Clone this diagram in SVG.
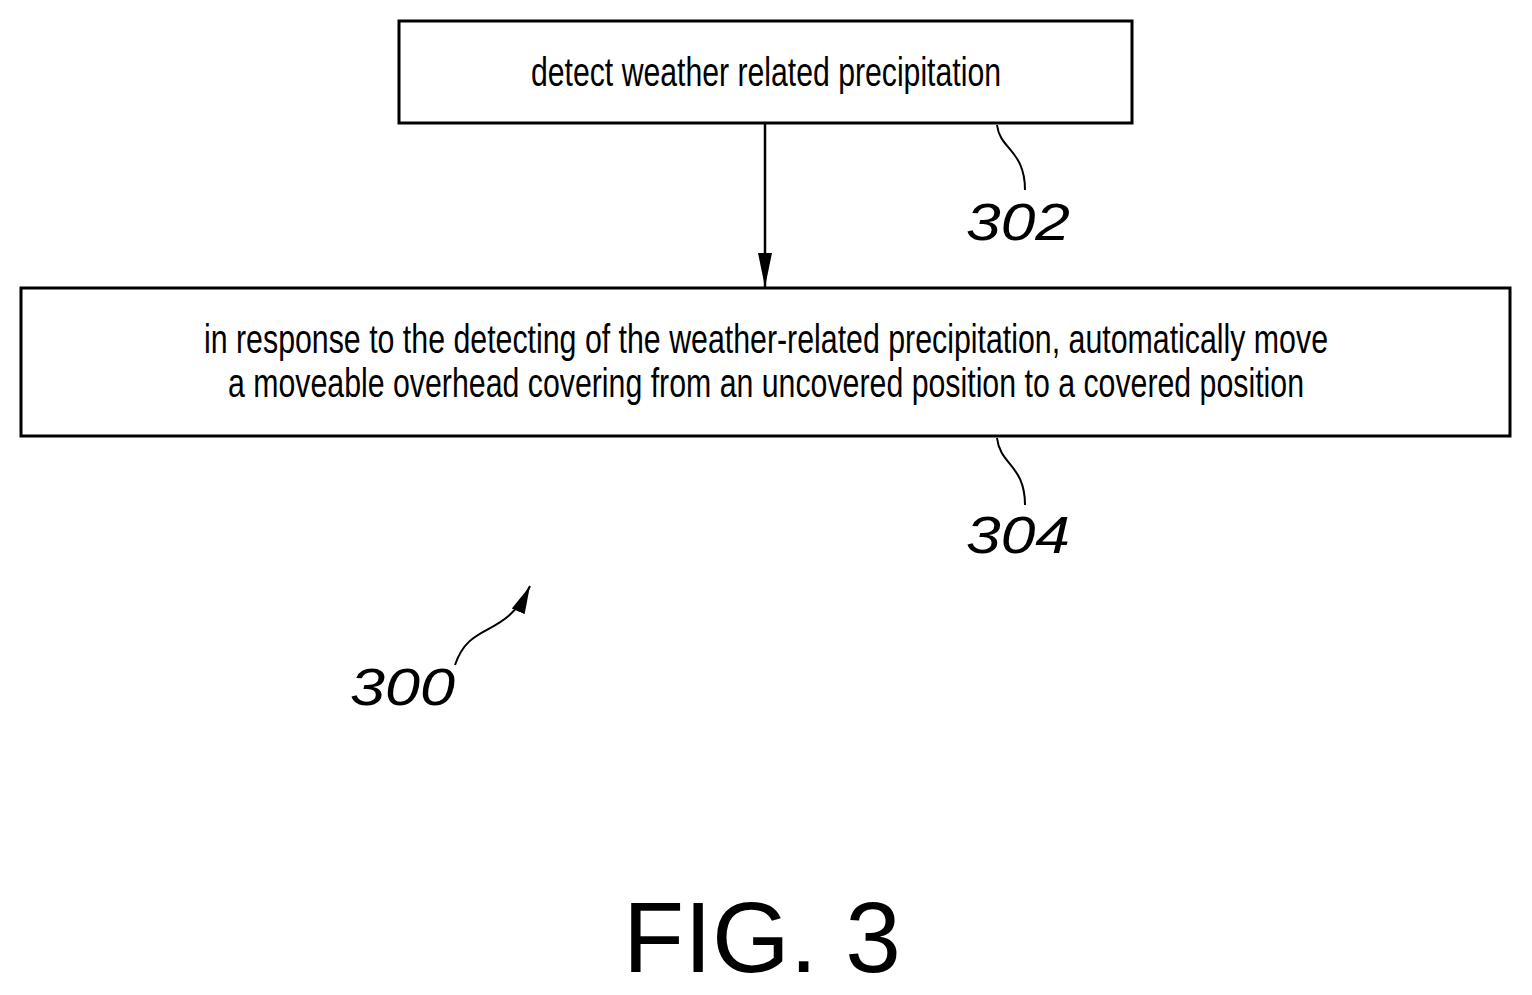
<svg xmlns="http://www.w3.org/2000/svg" width="1532" height="995" viewBox="0 0 1532 995">
<defs><marker id="ah" markerWidth="36" markerHeight="14" refX="34" refY="7" orient="auto" markerUnits="userSpaceOnUse"><path d="M0,0 L34,7 L0,14 Z" fill="#000"/></marker>
<marker id="ah2" markerWidth="30" markerHeight="20" refX="28" refY="10" orient="auto" markerUnits="userSpaceOnUse"><path d="M0,3 L28,10 L0,17 Z" fill="#000"/></marker></defs>
<style>.box{fill:#fff;stroke:#000;stroke-width:3}.t{font-family:"Liberation Sans",Arial,sans-serif;font-size:40px;text-anchor:middle}.ref{font-family:"Liberation Sans",Arial,sans-serif;font-style:italic;font-size:52px}.ld{fill:none;stroke:#000;stroke-width:2}</style>
<rect width="1532" height="995" fill="#fff"/>
<g id="n302"><rect class="box" x="399" y="21" width="733" height="102"/><text class="t" x="766" y="86" textLength="470" lengthAdjust="spacingAndGlyphs">detect weather related precipitation</text></g>
<g id="n304"><rect class="box" x="21" y="288" width="1489" height="148"/><text class="t" x="766" y="353" textLength="1124" lengthAdjust="spacingAndGlyphs">in response to the detecting of the weather-related precipitation, automatically move</text><text class="t" x="766" y="397" textLength="1076" lengthAdjust="spacingAndGlyphs">a moveable overhead covering from an uncovered position to a covered position</text></g>
<g id="connectors"><line x1="765" y1="123" x2="765" y2="287" stroke="#000" stroke-width="2.5" marker-end="url(#ah)"/>
<path class="ld" d="M997,125 C1000,150 1025,150 1025,190"/>
<path class="ld" d="M997,438 C1000,465 1025,465 1025,505"/>
<path class="ld" d="M455,665 C470,620 505,640 530,586" marker-end="url(#ah2)"/></g>
<g id="labels"><text class="ref" x="966" y="240" textLength="104" lengthAdjust="spacingAndGlyphs">302</text><text class="ref" x="966" y="553" textLength="104" lengthAdjust="spacingAndGlyphs">304</text><text class="ref" x="350" y="705" textLength="105" lengthAdjust="spacingAndGlyphs">300</text>
<text x="762" y="972" font-family="Liberation Sans,Arial,sans-serif" font-size="100" text-anchor="middle">FIG. 3</text></g>
</svg>
